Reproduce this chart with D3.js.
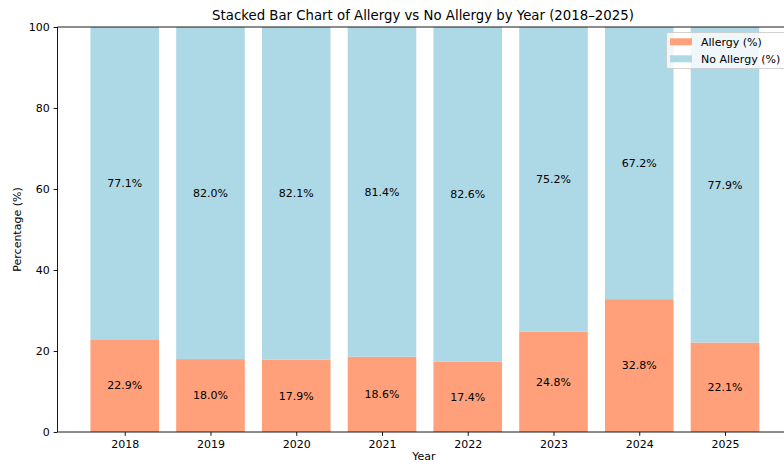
<!DOCTYPE html>
<html><head><meta charset="utf-8">
<script src="https://cdn.jsdelivr.net/npm/d3@7"></script>
<style>body{margin:0;background:#fff;} svg{display:block;font-family:"DejaVu Sans",sans-serif;}</style>
</head><body>
<svg id="c" width="784" height="466"></svg>
<script>
const years = ["2018","2019","2020","2021","2022","2023","2024","2025"];
const allergy = [22.9, 18.0, 17.9, 18.6, 17.4, 24.8, 32.8, 22.1];
const noAllergy = [77.1, 82.0, 82.1, 81.4, 82.6, 75.2, 67.2, 77.9];
const yTicks = [0, 20, 40, 60, 80, 100];
const seriesNames = ["Allergy (%)", "No Allergy (%)"];
const colors = ["#FFA07A", "#ADD8E6"];

const svg = d3.select("#c");
const L = 57.5, T = 27, B = 432;
const step = 85.75;
const xLin = d3.scaleLinear().domain([-0.79, 7.79]).range([L - 0.5, L - 0.5 + step * 8.58]);
const y = d3.scaleLinear().domain([0, 100]).range([B, T]);
const bw = step * 0.8;
const FS = 11;

const g = svg.append("g");
years.forEach((yr, i) => {
  const cx = xLin(i);
  g.append("rect").attr("x", cx - bw/2).attr("y", y(allergy[i])).attr("width", bw)
    .attr("height", y(0) - y(allergy[i])).attr("fill", colors[0]);
  g.append("rect").attr("x", cx - bw/2).attr("y", y(allergy[i] + noAllergy[i])).attr("width", bw)
    .attr("height", y(allergy[i]) - y(allergy[i] + noAllergy[i])).attr("fill", colors[1]);
  g.append("text").attr("x", cx).attr("y", y(allergy[i]/2)).attr("dy", "0.35em")
    .attr("text-anchor", "middle").attr("font-size", FS).attr("fill", "#000")
    .text(allergy[i].toFixed(1) + "%");
  g.append("text").attr("x", cx).attr("y", y(allergy[i] + noAllergy[i]/2)).attr("dy", "0.35em")
    .attr("text-anchor", "middle").attr("font-size", FS).attr("fill", "#000")
    .text(noAllergy[i].toFixed(1) + "%");
});

// spines
svg.append("line").attr("x1", L).attr("x2", 784).attr("y1", T).attr("y2", T).attr("stroke", "#000").attr("stroke-width", 0.9);
svg.append("line").attr("x1", L).attr("x2", 784).attr("y1", B).attr("y2", B).attr("stroke", "#000").attr("stroke-width", 0.9);
svg.append("line").attr("x1", L).attr("x2", L).attr("y1", T).attr("y2", B).attr("stroke", "#000").attr("stroke-width", 0.9);

// y axis
const yAxis = d3.axisLeft(y).tickValues(yTicks).tickSize(3.9).tickPadding(3.9).tickFormat(d3.format("d"));
const ya = svg.append("g").attr("transform", `translate(${L},0)`).call(yAxis);
ya.select(".domain").remove();
ya.selectAll("text").attr("font-size", FS).attr("font-family", "DejaVu Sans").attr("fill", "#000");
ya.selectAll("line").attr("stroke", "#000").attr("stroke-width", 0.9);

// x axis
const xBand = d3.scalePoint().domain(years).range([xLin(0), xLin(7)]);
const xAxis = d3.axisBottom(xBand).tickSize(3.9).tickPadding(3.9);
const xa = svg.append("g").attr("transform", `translate(0,${B})`).call(xAxis);
xa.select(".domain").remove();
xa.selectAll("text").attr("font-size", FS).attr("font-family", "DejaVu Sans").attr("fill", "#000");
xa.selectAll("line").attr("stroke", "#000").attr("stroke-width", 0.9);

// labels
svg.append("text").attr("x", 423).attr("y", 20).attr("text-anchor", "middle").attr("font-size", 13.3).text("Stacked Bar Chart of Allergy vs No Allergy by Year (2018\u20132025)");
svg.append("text").attr("x", 424).attr("y", 460).attr("text-anchor", "middle").attr("font-size", FS).text("Year");
svg.append("text").attr("transform", `translate(21,${(T+B)/2}) rotate(-90)`).attr("text-anchor", "middle").attr("font-size", FS).text("Percentage (%)");

// legend
const lg = svg.append("g");
lg.append("rect").attr("x", 666.5).attr("y", 32.5).attr("width", 130).attr("height", 36).attr("rx", 2)
  .attr("fill", "#fff").attr("fill-opacity", 0.8).attr("stroke", "#ccc").attr("stroke-width", 0.9);
seriesNames.forEach((n, i) => {
  const yy = 41.8 + i * 17;
  lg.append("rect").attr("x", 670).attr("y", yy - 3.5).attr("width", 22).attr("height", 7).attr("fill", colors[i]);
  lg.append("text").attr("x", 701).attr("y", yy).attr("dy", "0.35em").attr("font-size", FS).text(n);
});
</script>
</body></html>
